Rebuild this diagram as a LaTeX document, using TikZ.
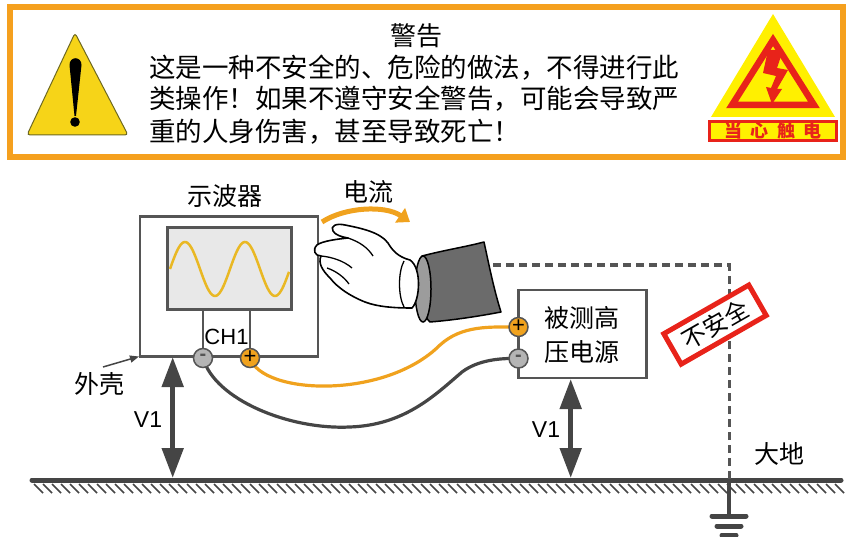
\documentclass[tikz,border=0pt]{standalone}
\usepackage{fontspec}
\setmainfont{Liberation Sans}
\newfontfamily\cjk{Noto Sans CJK SC}
\usetikzlibrary{arrows.meta}

\definecolor{frameorange}{HTML}{F5A01E}
\definecolor{signyellow}{HTML}{F6D418}
\definecolor{hvyellow}{HTML}{FFF000}
\definecolor{hvred}{HTML}{E8231A}
\definecolor{linegray}{HTML}{555555}
\definecolor{inkgray}{HTML}{454545}
\definecolor{wireorange}{HTML}{F0A21E}
\definecolor{wavegold}{HTML}{E9B824}
\definecolor{screengray}{HTML}{E8E8E8}
\definecolor{sleevegray}{HTML}{6B6B6B}
\definecolor{cuffgray}{HTML}{9C9C9C}
\definecolor{termgray}{HTML}{B4B4B4}

\tikzset{
  cjktext/.style={font=\cjk\fontsize{25}{30}\selectfont, inner sep=0pt},
  warntext/.style={font=\cjk\fontsize{26.5}{32}\selectfont, inner sep=0pt, anchor=west},
  latintext/.style={font=\fontsize{23}{26}\selectfont, inner sep=0pt},
  boxline/.style={draw=linegray, line width=2.5pt},
  term/.style={circle, draw=linegray, line width=1.5pt, minimum size=19pt, inner sep=0pt},
  negterm/.style={term, fill=termgray, font=\bfseries\fontsize{20}{20}\selectfont, text=linegray},
  posterm/.style={term, fill=wireorange, font=\fontsize{22}{22}\selectfont, text=black},
  volt/.style={inkgray, line width=5pt, {Triangle[length=30pt,width=21pt]}-{Triangle[length=30pt,width=21pt]}},
  wire/.style={line width=3.2pt, line cap=round},
}

\begin{document}
\begin{tikzpicture}[x=1pt,y=-1pt]
\useasboundingbox (0,0) rectangle (848,537);

% ---------- warning banner ----------
\draw[frameorange, line width=6pt] (10,7) rectangle (843,157);

% general warning triangle
\draw[fill=signyellow, draw=olive!70!black, line width=1pt, rounded corners=3pt]
  (75,33) -- (128,135) -- (27,135) -- cycle;
\fill (69.5,65) .. controls (69.5,56) and (81.5,56) .. (81.5,65)
      -- (76,116) -- (74.5,116) -- cycle;
\fill (75,122) circle (4.8pt);

\node[cjktext, font=\cjk\fontsize{26}{30}\selectfont] (wtitle) at (416,36) {警告};
\node[warntext] (wline1) at (149,67.5) {这是一种不安全的、危险的做法，不得进行此};
\node[warntext] (wline2) at (149,99) {类操作！如果不遵守安全警告，可能会导致严};
\node[warntext] (wline3) at (149,131.5) {重的人身伤害，甚至导致死亡！};

% electric shock sign
\fill[hvyellow] (773,14) -- (835,117) -- (711,117) -- cycle;
\draw[hvred, line width=6.5pt, line join=miter] (773,40) -- (814,105) -- (732,105) -- cycle;
\fill[hvred] (768,50) -- (783,50) -- (777,68) -- (788,70) -- (777,89) -- (782,89)
  -- (772,104) -- (766,87) -- (771,88) -- (776,76) -- (763,73) -- cycle;
\node[draw=hvred, fill=hvyellow, line width=2.7pt, minimum width=127pt, minimum height=19pt,
      inner sep=0pt, text=hvred, font=\cjk\bfseries\fontsize{18}{18}\selectfont]
  (hvlabel) at (773,131) {当\hspace{8.5pt}心\hspace{8.5pt}触\hspace{8.5pt}电};

% ---------- ground ----------
\foreach \hx in {34,43,...,840} {
  \draw[inkgray, line width=1.6pt] (\hx,484) -- (\hx+9,493);
}
\coordinate (gl) at (32,480);
\coordinate (gr) at (841,480);
\draw[inkgray, line width=5pt, line cap=round] (gl) -- (gr);
\node[cjktext] (earth) at (779,454) {大地};

% earth electrode
\coordinate (gtop) at (729,480);
\coordinate (gsym) at (729,516);
\draw[inkgray, line width=4pt] (gtop) -- (gsym);
\draw[inkgray, line width=5pt, line cap=round] (712,516) -- (746,516);
\draw[inkgray, line width=5pt, line cap=round] (717,526) -- (741,526);
\draw[inkgray, line width=5pt, line cap=round] (722,535) -- (736,535);

% ---------- oscilloscope ----------
\node[cjktext] (scopetitle) at (225,196) {示波器};
\node[boxline, minimum width=178pt, minimum height=140pt, inner sep=0pt] (scope) at (229,286.5) {};
\node[boxline, fill=screengray, minimum width=124pt, minimum height=82pt, inner sep=0pt] (screen) at (229.5,268.3) {};
\draw[wavegold, line width=2.5pt] plot[domain=0:119, samples=90, smooth]
  ({170+\x}, {269 - 27*sin(6*\x)});

\coordinate (sneg) at (203,358);
\coordinate (spos) at (250,358);
\draw[boxline] (screen.south -| sneg) -- (sneg);
\draw[boxline] (screen.south -| spos) -- (spos);
\node[latintext, font=\fontsize{22}{24}\selectfont] (ch1) at (226.5,337) {CH1};

% housing label
\node[cjktext] (shell) at (99,384) {外壳};
\coordinate (shellcorner) at (139,356.5);
\draw[inkgray, line width=1.5pt, -{Triangle[length=9pt,width=7pt]}] (103,367) -- (shellcorner);

% ---------- source under test ----------
\node[boxline, minimum width=128pt, minimum height=88pt, inner sep=0pt] (src) at (582.5,334) {};
\node[cjktext, align=center, font=\cjk\fontsize{25}{34}\selectfont] (srctext) at (582,335)
  {被测高\\压电源};
\coordinate (hpos) at (518.5,327);
\coordinate (hneg) at (518.5,358.5);

% ---------- probe leads ----------
\draw[wire, wireorange] (spos) .. controls (262,395) and (385,400) .. (440,345)
  .. controls (462,325) and (490,327) .. (hpos);
\draw[wire, inkgray] (sneg) .. controls (215,400) and (290,430) .. (350,427)
  .. controls (405,425) and (435,395) .. (462,372)
  .. controls (478,360) and (500,358) .. (hneg);

\node[negterm] (sminus) at (sneg) {\raisebox{1pt}{-}};
\node[posterm] (splus) at (spos) {\raisebox{1pt}{+}};
\node[posterm] (hplus) at (hpos) {\raisebox{1pt}{+}};
\node[negterm] (hminus) at (hneg) {\raisebox{1pt}{-}};

% ---------- voltages to earth ----------
\coordinate (v1top) at (172.7,357);
\coordinate (v1bot) at (172.7,478);
\draw[volt] (v1top) -- (v1bot);
\node[latintext] (v1a) at (148,420) {V1};
\coordinate (v2top) at (570.7,379);
\coordinate (v2bot) at (570.7,478);
\draw[volt] (v2top) -- (v2bot);
\node[latintext] (v1b) at (546,430) {V1};

% ---------- current path through the body ----------
\node[cjktext] (current) at (368,192) {电流};
\draw[wireorange, line width=5pt, -{Triangle[length=12pt,width=17pt]}]
  (322,222) .. controls (345,207) and (385,205) .. (410,222);

\coordinate (dstart) at (493,265);
\coordinate (dcorner) at (729,265);
\draw[linegray, line width=3pt, dash pattern=on 8pt off 5pt] (dstart) -- (dcorner) -- (gtop);

% sleeve
\draw[fill=sleevegray, line width=1.5pt, line join=round]
  (422,256) .. controls (445,250) and (465,247) .. (484,242)
  .. controls (489,265) and (494,290) .. (501,312)
  .. controls (480,316) and (455,320) .. (430,322)
  .. controls (418,312) and (414,268) .. (422,256) -- cycle;
\draw[fill=cuffgray, line width=1.5pt] (423,289) ellipse (8pt and 33pt);

% glove
\draw[fill=white, line width=1.6pt, line join=round]
  (410,260)
  .. controls (398,257) and (392,250) .. (388,243)
  .. controls (380,232) and (360,228) .. (345,225)
  .. controls (336,223) and (330,226) .. (333,231)
  .. controls (335,235) and (342,237) .. (348,238)
  .. controls (338,239) and (322,241) .. (317,245)
  .. controls (312,250) and (315,256) .. (321,256)
  .. controls (318,263) and (322,270) .. (330,278)
  .. controls (338,288) and (350,296) .. (365,302)
  .. controls (378,307) and (395,308) .. (412,308)
  .. controls (420,300) and (422,268) .. (410,260) -- cycle;
\draw[line width=1.3pt] (348,238) .. controls (360,242) and (368,248) .. (373,256);
\draw[line width=1.3pt] (321,256) .. controls (332,257) and (344,261) .. (352,268);
\draw[line width=1.3pt] (327,268) .. controls (336,271) and (344,277) .. (349,284);
\draw[line width=1.3pt] (404,261) .. controls (398,272) and (398,296) .. (404,307);

% unsafe tag
\node[draw=hvred, fill=white, line width=5pt, minimum width=98pt, minimum height=35pt,
      inner sep=0pt, rotate=29.8, font=\cjk\fontsize{24}{24}\selectfont]
  (unsafe) at (715,324.6) {不安全};

\end{tikzpicture}
\end{document}
